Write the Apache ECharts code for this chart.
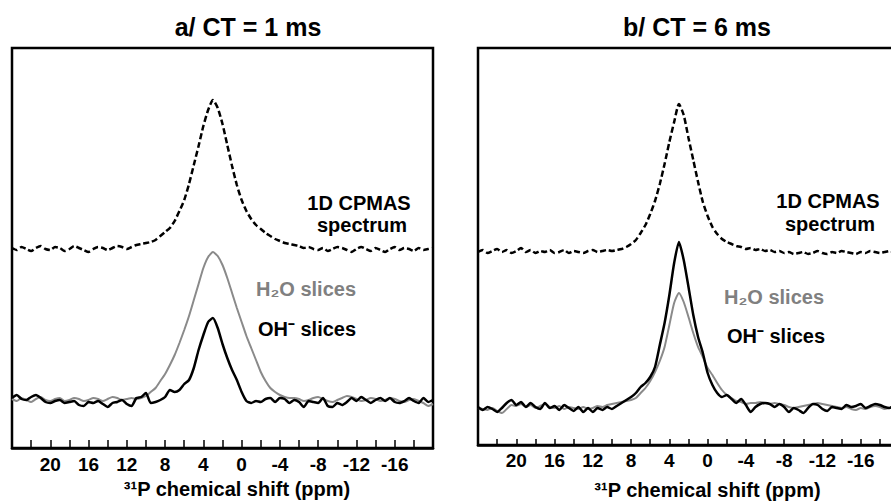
<!DOCTYPE html>
<html>
<head>
<meta charset="utf-8">
<script src="https://cdn.jsdelivr.net/npm/echarts@6/dist/echarts.min.js"></script>
<style>
html,body{margin:0;padding:0;background:#fff;}
#c{width:891px;height:503px;}
</style>
</head>
<body>
<div id="c"></div>
<script>
// 31P chemical shift sampling grid (ppm)
const SHIFT_PPM = [24,23.5,23,22.5,22,21.5,21,20.5,20,19.5,19,18.5,18,17.5,17,16.5,16,15.5,15,14.5,14,13.5,13,12.5,12,11.5,11,10.5,10,9.5,9,8.5,8,7.5,7,6.5,6,5.5,5,4.5,4,3.5,3,2.5,2,1.5,1,0.5,0,-0.5,-1,-1.5,-2,-2.5,-3,-3.5,-4,-4.5,-5,-5.5,-6,-6.5,-7,-7.5,-8,-8.5,-9,-9.5,-10,-10.5,-11,-11.5,-12,-12.5,-13,-13.5,-14,-14.5,-15,-15.5,-16,-16.5,-17,-17.5,-18,-18.5,-19,-19.5,-20];

const TICK_LABELS = [20,16,12,8,4,0,-4,-8,-12,-16];

// Panel a/ CT = 1 ms (intensities, a.u., stacked offsets included)
const A_CPMAS = [200,198,201,199,197,200,202,199,198,201,
200,197,199,202,200,198,196,199,201,200,
198,200,202,201,199,201,203,204,205,206,
208,212,216,220,227,237,248,264,283,302,
322,338,348,340,324,303,282,263,248,237,
229,223,219,215,212,209,207,205,204,203,
202,200,201,199,198,200,197,199,201,200,
198,196,199,201,199,197,200,198,196,199,
201,198,200,199,197,200,198,199,200];

const A_H2O = [49,47,50,48,46,49,51,48,47,49,
50,47,48,50,49,47,48,50,49,47,
49,51,50,48,49,50,49,50,
52,56,60,67,74,83,93,105,118,132,148,164,180,191,196,192,183,170,155,140,126,112,100,88,76,67,60,56,53,51,50,
50,49,47,48,50,51,49,47,46,48,
50,52,51,49,47,48,50,49,47,48,
50,49,47,46,48,49,47,45,42,44];

const A_OH = [50,53,49,48,51,53,50,46,45,47,
48,45,46,47,43,42,46,45,47,44,
41,45,46,48,44,42,50,51,55,45,
46,48,51,58,56,58,64,68,80,98,
113,126,
130,120,104,90,78,68,56,47,45,
47,46,49,50,46,50,49,45,48,46,
41,47,46,45,50,42,41,45,43,46,
50,47,51,48,45,48,50,47,50,46,
45,47,50,47,45,50,46,48];

// Panel b/ CT = 6 ms
const B_CPMAS = [193,195,192,194,196,193,195,192,194,197,
193,195,192,194,193,195,192,193,195,192,
194,193,192,194,195,193,194,195,194,195,
196,198,201,205,212,220,231,244,261,281,
303,323,341,330,307,285,263,243,229,218,
211,206,203,201,199,198,
196,197,195,196,194,195,193,194,192,193,
191,192,193,191,192,194,192,191,193,192,
194,193,192,191,193,192,194,193,192,193,
194,193,194];

const B_H2O = [37,36,35,37,34,32,36,40,39,41,
38,40,37,39,41,38,37,39,36,38,
37,36,38,36,37,39,38,40,41,42,
43,44,45,
47,52,57,64,73,84,98,120,142,152,143,128,112,98,88,77,70,62,55,50,47,44,43,
41,42,42,43,42,41,42,41,40,38,
37,38,39,40,41,42,41,40,39,38,
37,38,36,35,37,36,38,39,38,36,
37,38,37];

const B_OH = [38,35,38,36,33,37,42,45,40,43,
38,42,38,36,42,37,39,35,40,37,
34,38,33,37,33,37,35,38,36,39,
42,45,48,
52,58,62,68,78,100,122,150,182,203,185,158,130,108,92,72,60,52,48,50,46,42,46,40,33,
38,41,42,41,38,41,38,33,37,35,
32,37,41,40,36,34,38,37,36,40,
38,39,41,37,39,41,40,38,37,39,
38];

const FONT = '"Liberation Sans", Arial, Helvetica, sans-serif';
const chart = echarts.init(document.getElementById('c'), null, {renderer: 'svg'});

function pairs(ys) { return SHIFT_PPM.map((x, i) => [x, ys[i]]); }

function xAxisFor(gridIndex, tickLen, margin, nameGap, namePad) {
  return {
    type: 'value', gridIndex: gridIndex, inverse: true,
    min: -20, max: 24, interval: 2,
    axisLine: {show: true, onZero: false, lineStyle: {color: '#000', width: 2.5}},
    axisTick: {show: true, inside: true, interval: 0, length: tickLen, lineStyle: {color: '#000', width: 1.5}},
    splitLine: {show: false},
    axisLabel: {
      interval: 0, margin: margin, color: '#000', fontSize: 19, fontWeight: 'bold', fontFamily: FONT,
      formatter: v => TICK_LABELS.includes(v) ? String(v) : ''
    },
    name: '³¹P chemical shift (ppm)', nameLocation: 'middle', nameGap: nameGap,
    nameTextStyle: {color: '#000', fontSize: 20, fontWeight: 'bold', fontFamily: FONT, padding: [0, 0, 0, namePad]}
  };
}

function yAxisFor(gridIndex, max) {
  return {type: 'value', gridIndex: gridIndex, min: 0, max: max, show: false,
          splitLine: {show: false}, axisLine: {show: false}, axisTick: {show: false}, axisLabel: {show: false}};
}

function lineSeries(axisIndex, ys, color, width, type, z) {
  return {
    type: 'line', xAxisIndex: axisIndex, yAxisIndex: axisIndex, data: pairs(ys),
    symbol: 'none', showSymbol: false, smooth: 0.2, silent: true, z: z,
    lineStyle: {color: color, width: width, type: type}
  };
}

function txt(x, y, text, size, color) {
  return {type: 'text', x: x, y: y, silent: true,
    style: {text: text, fill: color || '#000', font: 'bold ' + size + 'px ' + FONT, align: 'center', verticalAlign: 'middle'}};
}

const GRAY = '#8a8a8a';

chart.setOption({
  animation: false,
  backgroundColor: '#fff',
  grid: [
    {left: 12, top: 48, width: 421, height: 400, show: true, borderColor: '#000', borderWidth: 2.5, backgroundColor: 'transparent', containLabel: false, outerBoundsMode: 'none'},
    {left: 478, top: 48, width: 421, height: 397, show: true, borderColor: '#000', borderWidth: 2.5, backgroundColor: 'transparent', containLabel: false, outerBoundsMode: 'none'}
  ],
  xAxis: [xAxisFor(0, 8, 7, 29, 29), xAxisFor(1, 6, 6, 35, 38)],
  yAxis: [yAxisFor(0, 400), yAxisFor(1, 397)],
  series: [
    lineSeries(0, A_CPMAS, '#000', 2.5, [6, 3], 2),
    lineSeries(0, A_H2O, GRAY, 2, 'solid', 3),
    lineSeries(0, A_OH, '#000', 2.5, 'solid', 4),
    lineSeries(1, B_CPMAS, '#000', 2.5, [6, 3], 2),
    lineSeries(1, B_H2O, GRAY, 2, 'solid', 3),
    lineSeries(1, B_OH, '#000', 2.5, 'solid', 4)
  ],
  graphic: [
    txt(248, 27, 'a/ CT = 1 ms', 25),
    txt(697, 27, 'b/ CT = 6 ms', 25),
    txt(359, 203, '1D CPMAS', 20),
    txt(362, 225, 'spectrum', 20),
    txt(828, 201, '1D CPMAS', 20),
    txt(830, 224, 'spectrum', 20),
    txt(306, 289, 'H₂O slices', 20, '#808080'),
    txt(307, 329, 'OH⁻ slices', 20),
    txt(774, 297, 'H₂O slices', 20, '#808080'),
    txt(776, 336, 'OH⁻ slices', 20)
  ]
});
</script>
</body>
</html>
